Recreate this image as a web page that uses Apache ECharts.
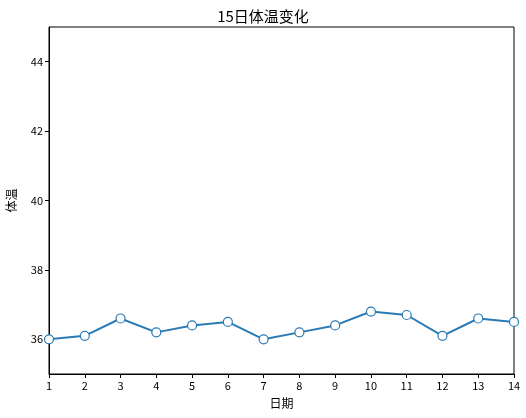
<!DOCTYPE html>
<html>
<head>
<meta charset="utf-8" />
<title>15日体温变化</title>
<script src="https://cdn.jsdelivr.net/npm/echarts@6/dist/echarts.min.js"></script>
</head>
<body style="margin:0;background:#fff;">
<div id="chart" style="width:526px;height:418px;"></div>
<script>
// 日期 与 体温
var days = [1, 2, 3, 4, 5, 6, 7, 8, 9, 10, 11, 12, 13, 14];
var temps = [36.0, 36.1, 36.6, 36.2, 36.4, 36.5, 36.0, 36.2, 36.4, 36.8, 36.7, 36.1, 36.6, 36.5];

var points = [];
for (var i = 0; i < days.length; i++) {
  points.push([days[i], temps[i]]);
}

var font = '"Noto Sans CJK SC", "DejaVu Sans", sans-serif';
var axisLine = { show: true, lineStyle: { color: '#000', width: 1 } };

var myChart = echarts.init(document.getElementById('chart'));
var option = {
  animation: false,
  title: {
    text: '15日体温变化',
    left: 'center',
    top: 4,
    textStyle: { fontFamily: font, fontSize: 15, fontWeight: 'normal', color: '#000' }
  },
  grid: { left: 49, right: 12, top: 27, bottom: 44, show: true, borderColor: '#000', borderWidth: 1,
    outerBoundsMode: 'none' },
  xAxis: {
    type: 'value',
    min: 1,
    max: 14,
    interval: 1,
    name: '日期',
    nameLocation: 'middle',
    nameGap: 23,
    nameTextStyle: { fontFamily: font, fontSize: 12, color: '#000' },
    axisLine: axisLine,
    axisTick: { show: true, inside: false, length: 4, lineStyle: { color: '#000' } },
    axisLabel: { fontFamily: font, fontSize: 11, color: '#000', margin: 6 },
    splitLine: { show: false }
  },
  yAxis: {
    type: 'value',
    min: 35,
    max: 45,
    interval: 1,
    name: '体温',
    nameLocation: 'middle',
    nameGap: 32,
    nameRotate: 90,
    nameTextStyle: { fontFamily: font, fontSize: 12, color: '#000' },
    axisLine: axisLine,
    axisTick: { show: true, inside: false, length: 4, lineStyle: { color: '#000' },
      customValues: [36, 38, 40, 42, 44] },
    axisLabel: { fontFamily: font, fontSize: 11, color: '#000', margin: 6,
      customValues: [36, 38, 40, 42, 44] },
    splitLine: { show: false }
  },
  series: [
    {
      type: 'line',
      data: points,
      symbol: 'circle',
      symbolSize: 9,
      lineStyle: { color: '#2a7ab5', width: 2 },
      itemStyle: { color: '#fff', borderColor: '#2a7ab5', borderWidth: 1.2 }
    }
  ]
};
option && myChart.setOption(option);
</script>
</body>
</html>
